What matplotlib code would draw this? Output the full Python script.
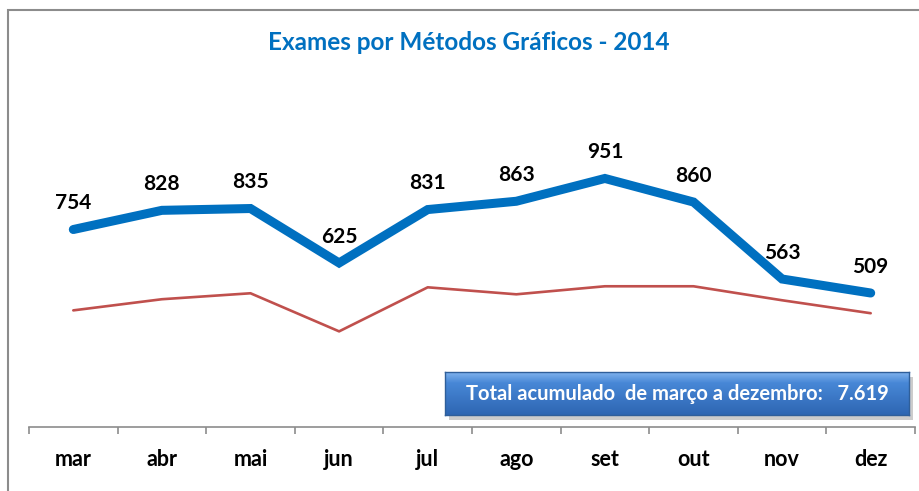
import matplotlib
matplotlib.use("Agg")
import matplotlib.pyplot as plt
import numpy as np
from matplotlib.patches import Rectangle

# dados
meses = ["mar", "abr", "mai", "jun", "jul", "ago", "set", "out", "nov", "dez"]
exames = [754, 828, 835, 625, 831, 863, 951, 860, 563, 509]
serie_vermelha = [442, 485, 508, 361, 531, 504, 535, 535, 481, 431]
titulo = "Exames por Métodos Gráficos - 2014"
texto_total = "Total acumulado  de março a dezembro:   7.619"

plt.rcParams['font.family'] = ['Lato', 'DejaVu Sans']

W, H = 919, 491
fig = plt.figure(figsize=(W / 100, H / 100), dpi=100)
fig.patch.set_facecolor("white")

# moldura (so lado esquerdo e topo visiveis)
fig.patches.append(Rectangle((8 / W, -0.1), 1.2, (H - 10) / H + 0.1, transform=fig.transFigure,
                             fill=False, edgecolor="#8c8c8c", linewidth=1.5))

ax = fig.add_axes([29 / W, (H - 427) / H, 886 / W, 311 / H])
x = np.arange(len(meses))
ax.plot(x, serie_vermelha, color="#C0504D", linewidth=1.9, solid_capstyle="round", zorder=2)
ax.plot(x, exames, color="#0070C0", linewidth=6.5, solid_capstyle="round",
        solid_joinstyle="miter", zorder=3)
for xi, v in zip(x, exames):
    ax.annotate(str(v), (xi, v), xytext=(0, 19), textcoords="offset points",
                ha="center", va="center", fontsize=15, fontweight="bold", color="black")

ax.set_xlim(-0.5, len(meses) - 0.5)
ax.set_ylim(-8, 1192)
for s in ["top", "right", "left"]:
    ax.spines[s].set_visible(False)
ax.spines["bottom"].set_color("#8c8c8c")
ax.spines["bottom"].set_linewidth(1.2)
ax.set_yticks([])
ax.set_xticks(np.arange(-0.5, len(meses), 1.0))
ax.set_xticklabels([])
ax.set_xticks(x, minor=True)
ax.set_xticklabels(meses, minor=True, fontsize=15.5, fontweight="bold")
ax.tick_params(axis="x", which="major", direction="out", length=5, color="#8c8c8c", width=1.2)
ax.tick_params(axis="x", which="minor", length=0, pad=16)

fig.text(469 / W, 1 - 42 / H, titulo, ha="center", va="center", fontsize=17.5,
         fontweight="bold", color="#0070C0")

# caixa do total com gradiente e sombra
bx0, by0, bx1, by1 = 445, 372, 909, 415
fig.patches.append(Rectangle(((bx0 + 4) / W, 1 - (by1 + 5) / H), (bx1 - bx0) / W, (by1 - by0) / H,
                             transform=fig.transFigure, facecolor="#9a9a9a", alpha=0.5,
                             edgecolor="none", zorder=4))
bax = fig.add_axes([bx0 / W, 1 - by1 / H, (bx1 - bx0) / W, (by1 - by0) / H], zorder=5)
top = np.array([0.50, 0.70, 0.93])
mid = np.array([0.28, 0.53, 0.84])
bot = np.array([0.18, 0.40, 0.70])
t = np.linspace(0, 1, 60)[:, None]
grad = np.where(t < 0.25, top + (mid - top) * (t / 0.25), mid + (bot - mid) * ((t - 0.25) / 0.75))
bax.imshow(grad[:, None, :], aspect="auto", extent=(0, 1, 0, 1), origin="upper")
bax.set_xlim(0, 1)
bax.set_ylim(0, 1)
bax.set_xticks([])
bax.set_yticks([])
for s in bax.spines.values():
    s.set_color("#2f5f9a")
    s.set_linewidth(1)
bax.text(0.5, 0.5, texto_total, ha="center", va="center", fontsize=14.5,
         fontweight="bold", color="white", transform=bax.transAxes)

fig.savefig("out.png", dpi=100)
